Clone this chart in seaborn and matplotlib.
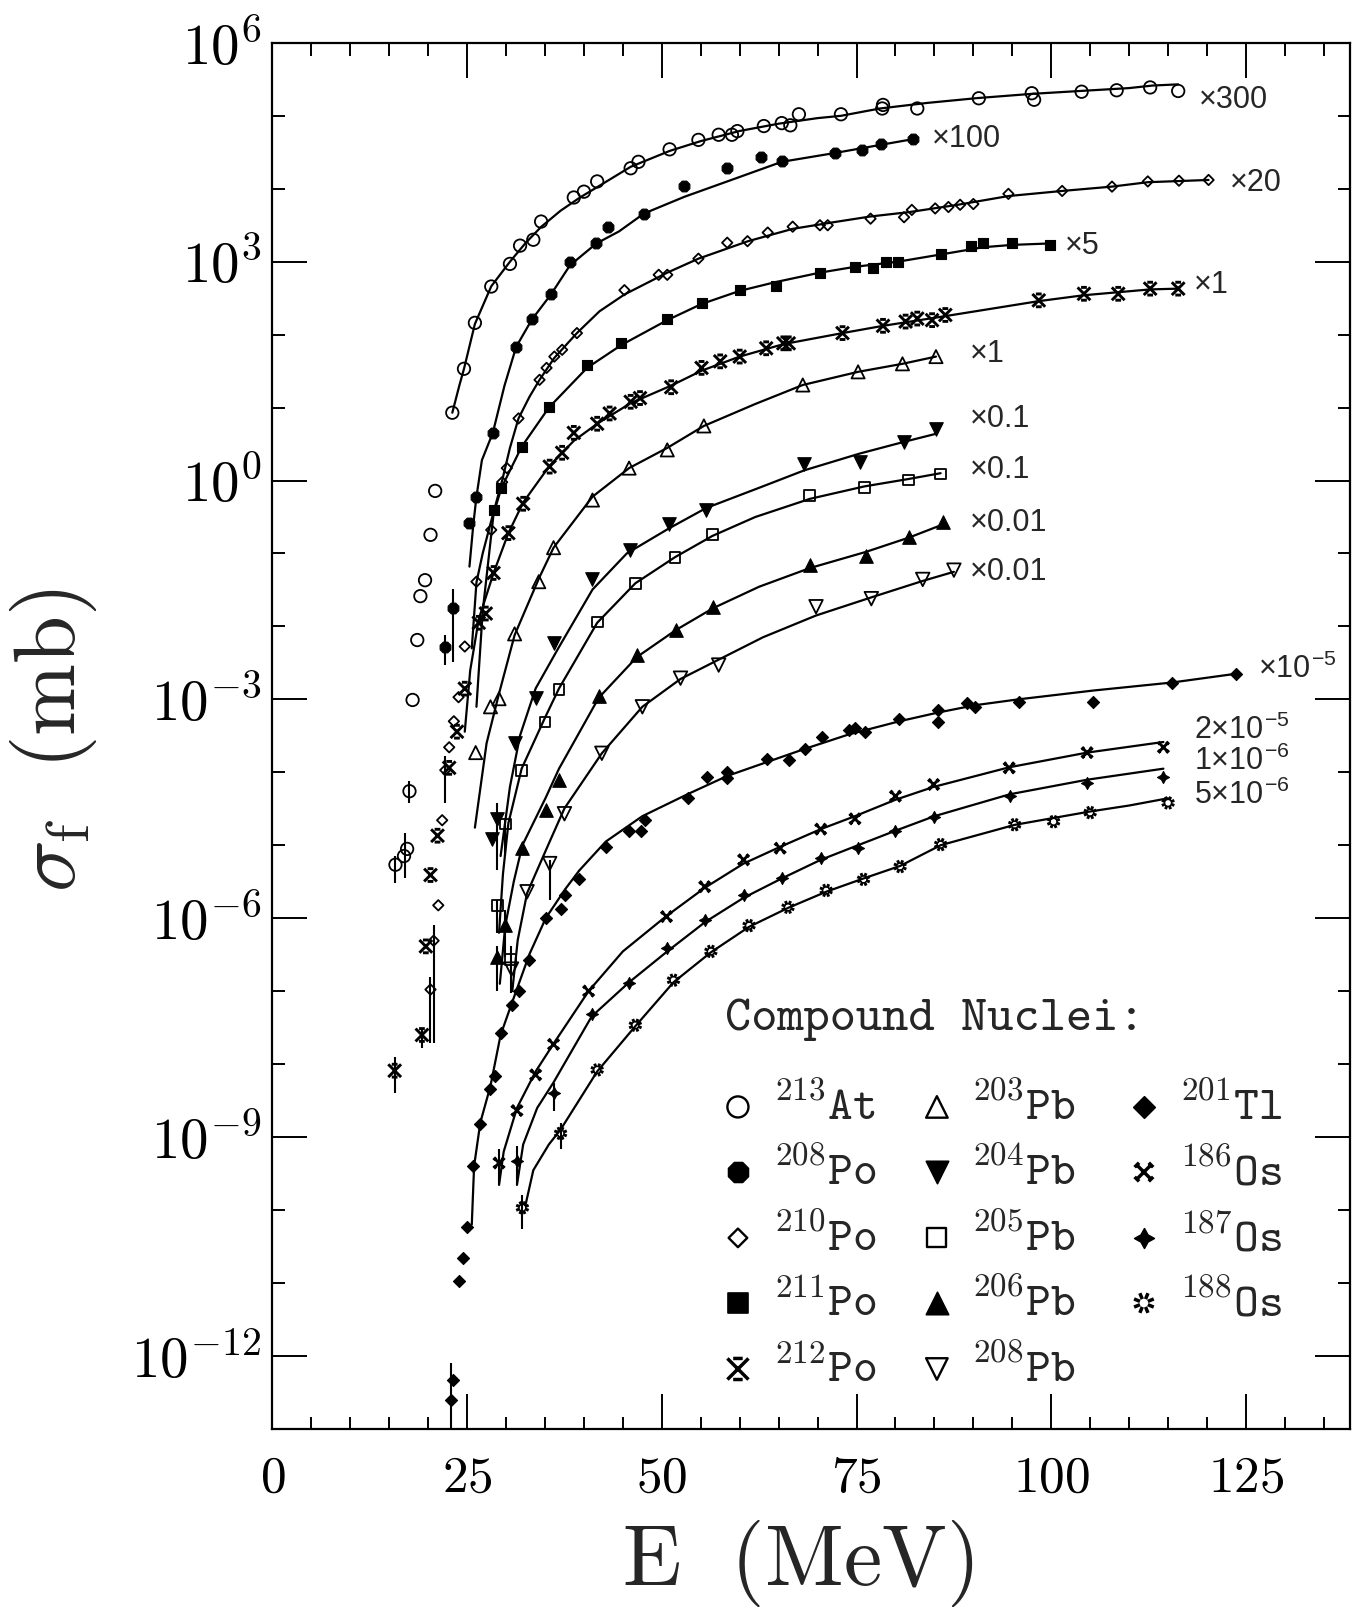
import numpy as np
import matplotlib
matplotlib.use("Agg")
import matplotlib.pyplot as plt
from matplotlib.path import Path
from matplotlib.ticker import MultipleLocator, FixedLocator, FuncFormatter, NullFormatter
import seaborn as sns

# values (sigma already multiplied by the factor shown next to each curve)
# 213At  x300
at213_E = [15.8, 16.9, 17.3, 17.6, 18.0, 18.6, 19.0, 19.6, 20.3, 20.9, 23.1, 24.6, 26.0, 28.1, 30.5, 31.8, 33.5, 34.5,
           38.7, 40.0, 41.7, 46.0, 47.0, 51.0, 54.7, 57.3, 59.0, 59.7, 63.1, 65.4, 66.5, 67.6, 73.0, 78.3, 78.4, 82.8,
           90.7, 97.5, 97.8, 103.9, 108.4, 112.7, 116.3]
at213_sig = [5.4e-6, 7.1e-6, 8.9e-6, 5.5e-5, 9.8e-4, 6.5e-3, 2.6e-2, 4.3e-2, 0.18, 0.72, 8.5, 34, 145, 457, 933, 1660,
             2000, 3550, 7590, 9120, 1.26e4, 1.91e4, 2.34e4, 3.47e4, 4.68e4, 5.5e4, 5.5e4, 6.17e4, 7.24e4, 7.94e4,
             7.41e4, 1.05e5, 1.05e5, 1.26e5, 1.41e5, 1.26e5, 1.74e5, 2.04e5, 1.66e5, 2.14e5, 2.24e5, 2.45e5, 2.19e5]
at213_fitE = [23.1, 24.0, 24.6, 26.0, 28.1, 30.5, 32.5, 34.5, 37.0, 39.5, 42.0, 46.0, 51.0, 55.0, 60.0, 65.0, 70.0,
              73.0, 78.0, 84.0, 90.5, 97.5, 104.0, 110.0, 113.0, 116.3]
at213_fit = [8.5, 20, 34, 140, 460, 1000, 1800, 3000, 5000, 7600, 1.1e4, 2.0e4, 3.3e4, 4.5e4, 6.2e4, 7.8e4, 9.3e4,
             1.0e5, 1.26e5, 1.5e5, 1.75e5, 2.0e5, 2.2e5, 2.4e5, 2.6e5, 2.7e5]

# 208Po  x100
po208_E = [22.2, 23.2, 25.3, 26.2, 28.3, 31.3, 33.3, 35.8, 38.2, 41.6, 43.1, 47.7, 52.9, 58.4, 62.7, 65.4, 72.2, 75.7,
           78.1, 82.3]
po208_sig = [5.3e-3, 1.8e-2, 0.26, 0.6, 4.5, 68, 162, 363, 977, 1780, 3020, 4570, 1.1e4, 1.91e4, 2.75e4, 2.4e4,
             3.09e4, 3.39e4, 4.07e4, 4.79e4]
po208_fitE = [25.3, 25.8, 26.2, 26.9, 28.3, 29.8, 31.3, 33.3, 35.8, 38.2, 41.6, 44.5, 47.7, 52.9, 58.4, 65.4, 72.2,
              78.1, 82.3]
po208_fit = [6.6e-2, 0.25, 0.6, 1.9, 4.5, 20, 68, 160, 360, 890, 1780, 2600, 4570, 7760, 1.26e4, 2.34e4, 3.09e4,
             4.0e4, 4.8e4]

# 210Po  x20
po210_E = [20.3, 20.7, 21.3, 21.8, 22.2, 22.7, 23.3, 23.9, 24.7, 26.2, 28.1, 29.5, 30.1, 31.6, 34.3, 35.2, 36.2, 37.2,
           39.1, 45.2, 49.6, 50.7, 54.7, 58.4, 61.0, 63.6, 66.8, 70.3, 71.3, 76.8, 81.1, 82.1, 85.1, 86.8, 88.3, 90.0,
           94.5, 101.4, 107.8, 112.4, 116.4, 120.2]
po210_sig = [1.05e-7, 4.9e-7, 1.5e-6, 2.2e-5, 1.07e-4, 2.2e-4, 5.0e-4, 1.07e-3, 5.3e-3, 4.1e-2, 0.21, 0.95, 1.48, 7.1,
             24, 35, 50, 62, 105, 407, 661, 661, 1100, 1820, 1910, 2510, 3020, 3160, 3160, 3890, 4070, 5130, 5370,
             5620, 6030, 6170, 8510, 9330, 1.07e4, 1.26e4, 1.29e4, 1.32e4]
po210_fitE = [25.6, 26.2, 27.0, 28.1, 29.5, 30.5, 31.6, 33.0, 34.3, 36.2, 39.1, 42.0, 45.2, 50.7, 54.7, 61.0, 66.8,
              72.0, 76.8, 81.8, 88.0, 94.5, 101.4, 107.8, 112.4, 120.2]
po210_fit = [5.0e-3, 4.0e-2, 0.1, 0.28, 1.0, 2.8, 7.1, 14, 24, 48, 105, 209, 355, 708, 1100, 1900, 2820, 3470, 4170,
             4790, 6030, 7940, 9330, 1.07e4, 1.23e4, 1.32e4]

# 211Po  x5
po211_E = [28.4, 29.4, 32.0, 35.5, 40.4, 44.8, 50.7, 55.1, 60.0, 64.6, 70.3, 74.8, 77.1, 78.8, 80.3, 85.9, 89.7, 91.3,
           95.0, 99.9]
po211_sig = [0.4, 0.78, 2.9, 10.2, 38, 76, 162, 269, 407, 468, 692, 851, 813, 1000, 977, 1260, 1620, 1820, 1780, 1700]
po211_fitE = [26.2, 27.0, 28.4, 29.4, 32.0, 35.5, 40.4, 44.8, 50.7, 55.1, 60.0, 64.6, 70.3, 74.8, 80.3, 85.9, 91.3,
              95.0, 99.9]
po211_fit = [7.9e-4, 1.6e-2, 0.35, 0.79, 2.9, 10, 35, 72, 158, 263, 398, 525, 708, 851, 1000, 1260, 1580, 1700, 1780]

# 212Po  x1
po212_E = [15.7, 19.2, 19.7, 20.3, 21.2, 22.7, 23.7, 24.7, 26.5, 27.4, 28.4, 30.3, 32.2, 35.6, 37.2, 38.7, 41.7, 43.3,
           46.0, 47.2, 51.2, 55.1, 57.5, 60.0, 63.4, 65.6, 66.3, 73.2, 78.4, 81.3, 82.8, 84.7, 86.4, 98.4, 104.2,
           108.6, 112.7, 116.3]
po212_sig = [8.1e-9, 2.5e-8, 4.1e-7, 3.9e-6, 1.35e-5, 1.15e-4, 3.6e-4, 1.4e-3, 1.12e-2, 1.5e-2, 5.4e-2, 0.19, 0.48,
             1.55, 2.4, 4.5, 6.0, 8.3, 12, 13.5, 19, 35, 43, 50, 65, 76, 76, 105, 132, 151, 166, 158, 186, 295, 363,
             363, 427, 427]
po212_fitE = [24.7, 25.4, 26.5, 28.4, 30.3, 32.2, 35.6, 38.7, 41.7, 46.0, 51.2, 55.1, 60.0, 65.6, 73.2, 78.4, 86.2,
              98.4, 104.2, 112.7, 116.3]
po212_fit = [3.6e-4, 2.5e-3, 1.26e-2, 5.4e-2, 0.19, 0.5, 1.6, 3.5, 6.0, 11.5, 20, 32, 50, 74, 105, 132, 178, 288, 347,
             417, 427]

# 203Pb  x1
pb203_E = [26.1, 28.0, 29.1, 31.1, 34.2, 36.1, 41.1, 45.8, 50.7, 55.4, 68.1, 75.2, 80.9, 85.2]
pb203_sig = [1.86e-4, 7.9e-4, 1.02e-3, 7.9e-3, 4.1e-2, 0.12, 0.54, 1.48, 2.63, 5.6, 20.4, 30.9, 39.8, 50]
pb203_fitE = [26.0, 27.5, 29.1, 31.1, 34.2, 36.1, 41.1, 45.8, 50.7, 55.4, 62.0, 68.1, 75.2, 80.9, 85.2]
pb203_fit = [1.74e-5, 2.5e-4, 1.2e-3, 7.6e-3, 4.5e-2, 0.12, 0.6, 1.48, 2.8, 5.6, 11.2, 20.4, 30.9, 39.8, 50]

# 204Pb  x0.1
pb204_E = [28.2, 28.9, 31.2, 33.8, 36.1, 41.1, 45.9, 50.9, 55.7, 68.3, 75.4, 81.1, 85.2]
pb204_sig = [1.2e-5, 2.3e-5, 2.5e-4, 1.05e-3, 6.0e-3, 4.4e-2, 0.112, 0.25, 0.4, 1.7, 1.82, 3.39, 5.1]
pb204_fitE = [29.3, 30.5, 31.8, 33.8, 36.7, 41.1, 45.5, 50.9, 55.7, 62.7, 68.3, 75.4, 81.1, 85.2]
pb204_fit = [7.1e-6, 6.3e-5, 3.2e-4, 1.41e-3, 5.0e-3, 3.2e-2, 0.1, 0.22, 0.42, 0.81, 1.38, 2.34, 3.39, 4.37]

# 205Pb  x0.1
pb205_E = [28.9, 29.9, 30.6, 32.0, 35.0, 36.8, 41.7, 46.6, 51.7, 56.5, 69.0, 76.0, 81.7, 85.8]
pb205_sig = [1.5e-6, 1.95e-5, 2.7e-7, 1.07e-4, 4.9e-4, 1.38e-3, 1.15e-2, 3.9e-2, 8.9e-2, 0.18, 0.63, 0.81, 1.02, 1.23]
pb205_fitE = [29.1, 29.6, 30.3, 32.0, 35.0, 36.8, 41.7, 46.6, 51.7, 56.5, 62.0, 69.0, 76.0, 81.7, 85.8]
pb205_fit = [6.3e-7, 4.0e-6, 2.0e-5, 1.12e-4, 5.6e-4, 1.41e-3, 1.12e-2, 3.9e-2, 8.9e-2, 0.174, 0.316, 0.56, 0.83,
             1.05, 1.26]

# 206Pb  x0.01
pb206_E = [28.9, 29.9, 32.1, 35.1, 36.8, 41.9, 46.8, 51.8, 56.6, 69.0, 76.2, 81.8, 86.1]
pb206_sig = [2.95e-7, 8.1e-7, 9.1e-6, 3.0e-5, 7.9e-5, 1.1e-3, 4.1e-3, 8.9e-3, 1.86e-2, 6.9e-2, 9.1e-2, 0.17, 0.27]
pb206_fitE = [29.2, 29.9, 31.0, 32.1, 35.1, 36.8, 41.9, 46.8, 51.8, 56.6, 62.5, 69.0, 76.2, 81.8, 86.1]
pb206_fit = [1.26e-7, 7.9e-7, 3.2e-6, 1.0e-5, 4.5e-5, 1.12e-4, 1.05e-3, 3.8e-3, 8.9e-3, 1.78e-2, 3.5e-2, 6.3e-2,
             0.105, 0.166, 0.25]

# 208Pb  x0.01
pb208_E = [30.7, 32.7, 35.6, 37.5, 42.3, 47.5, 52.4, 57.3, 69.8, 76.9, 83.5, 87.5]
pb208_sig = [2.0e-7, 2.3e-6, 5.6e-6, 2.7e-5, 1.82e-4, 7.9e-4, 1.95e-3, 2.95e-3, 1.86e-2, 2.4e-2, 4.4e-2, 5.9e-2]
pb208_fitE = [30.8, 31.5, 32.7, 35.6, 37.5, 42.3, 47.5, 52.4, 57.3, 63.0, 69.8, 76.9, 83.5, 87.5]
pb208_fit = [1.0e-7, 5.0e-7, 2.2e-6, 1.12e-5, 3.2e-5, 1.82e-4, 7.9e-4, 1.9e-3, 3.5e-3, 7.1e-3, 1.41e-2, 2.5e-2,
             4.2e-2, 5.6e-2]

# 201Tl  x1e-5
tl201_E = [22.9, 23.2, 23.9, 24.5, 25.0, 25.7, 26.7, 28.0, 28.6, 29.3, 30.8, 31.6, 33.0, 35.1, 37.1, 37.6, 39.4, 42.8,
           45.8, 47.3, 47.8, 53.3, 55.8, 58.4, 58.4, 63.5, 66.3, 68.4, 70.6, 74.0, 74.8, 76.1, 80.5, 85.5, 85.5, 89.2,
           90.2, 95.8, 105.4, 115.5, 123.7]
tl201_sig = [2.5e-13, 4.7e-13, 1.07e-11, 2.2e-11, 5.9e-11, 4.0e-10, 1.5e-9, 4.5e-9, 6.8e-9, 2.7e-8, 6.5e-8, 1.0e-7,
             2.7e-7, 1.0e-6, 1.32e-6, 2.1e-6, 3.4e-6, 9.5e-6, 1.55e-5, 1.58e-5, 2.2e-5, 4.4e-5, 8.7e-5, 1.02e-4,
             8.3e-5, 1.51e-4, 1.48e-4, 2.1e-4, 3.0e-4, 3.8e-4, 4.0e-4, 3.6e-4, 5.3e-4, 7.1e-4, 4.9e-4, 8.9e-4,
             7.9e-4, 9.3e-4, 9.3e-4, 1.7e-3, 2.24e-3]
tl201_fitE = [25.6, 25.9, 26.7, 28.0, 29.3, 30.8, 33.0, 35.1, 37.6, 39.4, 42.8, 47.5, 53.3, 58.4, 63.5, 68.4, 74.0,
              80.5, 85.5, 90.2, 95.8, 105.4, 115.5, 123.7]
tl201_fit = [6.3e-11, 4.0e-10, 1.58e-9, 5.0e-9, 2.5e-8, 7.1e-8, 3.2e-7, 1.0e-6, 2.5e-6, 4.5e-6, 1.12e-5, 2.5e-5,
             5.0e-5, 8.9e-5, 1.38e-4, 2.1e-4, 3.3e-4, 5.0e-4, 6.6e-4, 8.3e-4, 1.0e-3, 1.32e-3, 1.7e-3, 2.24e-3]

# 186Os  x2e-5
os186_E = [29.1, 31.4, 33.8, 36.1, 40.6, 50.6, 55.5, 60.5, 65.2, 70.4, 74.8, 80.0, 84.9, 94.6, 104.6, 114.4]
os186_sig = [4.4e-10, 2.3e-9, 7.1e-9, 1.86e-8, 1.0e-7, 1.05e-6, 2.7e-6, 6.3e-6, 9.1e-6, 1.66e-5, 2.3e-5, 4.7e-5,
             6.8e-5, 1.15e-4, 1.86e-4, 2.2e-4]
os186_fitE = [29.1, 29.7, 31.4, 33.8, 36.1, 40.6, 45.0, 50.5, 55.5, 60.5, 65.2, 70.4, 74.8, 80.0, 84.9, 94.6, 104.6,
              114.4]
os186_fit = [2.2e-10, 6.3e-10, 2.5e-9, 7.9e-9, 1.9e-8, 1.0e-7, 3.5e-7, 1.05e-6, 2.6e-6, 5.6e-6, 9.5e-6, 1.66e-5,
             2.5e-5, 4.2e-5, 6.3e-5, 1.17e-4, 1.86e-4, 2.6e-4]

# 187Os  x1e-6
os187_E = [31.4, 36.1, 41.0, 45.8, 50.7, 55.6, 60.5, 65.4, 70.4, 75.2, 80.0, 85.0, 94.7, 104.6, 114.4]
os187_sig = [4.7e-10, 4.0e-9, 4.8e-8, 1.29e-7, 3.9e-7, 9.3e-7, 2.1e-6, 3.5e-6, 6.6e-6, 9.1e-6, 1.58e-5, 2.45e-5,
             4.7e-5, 7.1e-5, 8.7e-5]
os187_fitE = [31.4, 32.2, 34.0, 36.1, 41.0, 45.8, 50.7, 55.6, 60.5, 65.4, 70.4, 75.2, 80.0, 85.0, 94.7, 104.6, 114.4]
os187_fit = [2.2e-10, 7.9e-10, 2.5e-9, 5.6e-9, 4.5e-8, 1.32e-7, 3.5e-7, 8.9e-7, 1.9e-6, 3.5e-6, 6.3e-6, 1.0e-5,
             1.58e-5, 2.5e-5, 5.0e-5, 7.9e-5, 1.12e-4]

# 188Os  x5e-6
os188_E = [32.1, 37.0, 41.7, 46.6, 51.5, 56.3, 61.2, 66.2, 71.1, 75.9, 80.6, 85.8, 95.3, 100.3, 105.0, 115.0]
os188_sig = [1.07e-10, 1.12e-9, 8.3e-9, 3.4e-8, 1.41e-7, 3.5e-7, 7.9e-7, 1.41e-6, 2.4e-6, 3.4e-6, 5.1e-6, 1.02e-5,
             1.91e-5, 2.1e-5, 2.8e-5, 3.8e-5]
os188_fitE = [32.5, 33.5, 35.5, 37.0, 41.7, 46.6, 51.5, 56.3, 61.2, 66.2, 71.1, 75.9, 80.6, 85.8, 95.3, 105.0, 110.0,
              115.0]
os188_fit = [1.17e-10, 3.5e-10, 7.9e-10, 1.26e-9, 7.9e-9, 3.3e-8, 1.32e-7, 3.4e-7, 7.6e-7, 1.38e-6, 2.3e-6, 3.5e-6,
             5.2e-6, 1.0e-5, 1.9e-5, 2.9e-5, 3.5e-5, 4.4e-5]

# vertical error bars (E, low, high)
err_E = [15.8, 17.0, 17.6, 15.7, 19.2, 22.2, 23.2, 20.3, 20.7, 22.2, 22.9, 28.9, 29.9, 30.6, 28.9, 35.6, 29.9, 28.9,
         29.1, 31.4, 36.1, 32.1, 37.0]
err_lo = [3.0e-6, 3.5e-6, 3.8e-5, 4.0e-9, 1.66e-8, 2.95e-3, 3.3e-3, 1.95e-8, 1.95e-8, 3.8e-5, 1.0e-13, 6.3e-7, 7.1e-6,
          9.3e-8, 4.6e-6, 1.78e-6, 2.95e-7, 1.0e-7, 2.3e-10, 2.3e-10, 2.3e-9, 5.4e-11, 6.8e-10]
err_hi = [7.1e-6, 1.48e-5, 7.6e-5, 1.26e-8, 2.95e-8, 7.6e-3, 3.3e-2, 1.58e-7, 8.1e-7, 1.66e-4, 7.9e-13, 1.78e-6,
          2.24e-5, 4.1e-7, 3.8e-5, 6.3e-6, 1.29e-6, 4.1e-7, 6.8e-10, 7.4e-10, 5.5e-9, 1.6e-10, 1.55e-9]

# scale factor labels
factor_labels = ["×300", "×100", "×20", "×5", "×1", "×1", "×0.1", "×0.1", "×0.01", "×0.01",
                 "×10$^{\\mathregular{-5}}$", "2×10$^{\\mathregular{-5}}$", "1×10$^{\\mathregular{-6}}$",
                 "5×10$^{\\mathregular{-6}}$"]
factor_pos = [(119.0, 1.66e5), (84.7, 4.8e4), (123.0, 1.2e4), (101.7, 1.66e3), (118.3, 480), (89.6, 54),
              (89.6, 6.9), (89.6, 1.4), (89.6, 0.26), (89.6, 0.055), (126.6, 2.6e-3), (118.3, 3.7e-4),
              (118.3, 1.4e-4), (118.3, 4.8e-5)]


def seg_marker(segs):
    verts, codes = [], []
    for a, b in segs:
        verts += [a, b]
        codes += [Path.MOVETO, Path.LINETO]
    return Path(verts, codes)


mk_212 = seg_marker([((-1, -1), (1, 1)), ((-1, 1), (1, -1)), ((-0.45, 1), (0.45, 1)), ((-0.45, -1), (0.45, -1))])
mk_186 = seg_marker([((-1, -1), (1, 1)), ((-1, 1), (1, -1)),
                     ((0.65, 1.25), (1.25, 0.65)), ((-0.65, 1.25), (-1.25, 0.65)),
                     ((0.65, -1.25), (1.25, -0.65)), ((-0.65, -1.25), (-1.25, -0.65))])
ang = np.deg2rad(np.arange(8) * 45 + 22.5)
mk_188 = seg_marker([((0.4 * np.cos(a), 0.4 * np.sin(a)), (np.cos(a), np.sin(a))) for a in ang])

# name, points, fit, marker, filled, size, legend size, legend column/row
series = [
    ("213", "At", at213_E, at213_sig, at213_fitE, at213_fit, "o", False, 80, 230, 0, 0),
    ("208", "Po", po208_E, po208_sig, po208_fitE, po208_fit, "8", True, 70, 240, 0, 1),
    ("210", "Po", po210_E, po210_sig, po210_fitE, po210_fit, "D", False, 28, 90, 0, 2),
    ("211", "Po", po211_E, po211_sig, po211_fitE, po211_fit, "s", True, 60, 200, 0, 3),
    ("212", "Po", po212_E, po212_sig, po212_fitE, po212_fit, mk_212, None, 85, 230, 0, 4),
    ("203", "Pb", pb203_E, pb203_sig, pb203_fitE, pb203_fit, "^", False, 90, 240, 1, 0),
    ("204", "Pb", pb204_E, pb204_sig, pb204_fitE, pb204_fit, "v", True, 95, 260, 1, 1),
    ("205", "Pb", pb205_E, pb205_sig, pb205_fitE, pb205_fit, "s", False, 60, 190, 1, 2),
    ("206", "Pb", pb206_E, pb206_sig, pb206_fitE, pb206_fit, "^", True, 95, 260, 1, 3),
    ("208", "Pb", pb208_E, pb208_sig, pb208_fitE, pb208_fit, "v", False, 95, 240, 1, 4),
    ("201", "Tl", tl201_E, tl201_sig, tl201_fitE, tl201_fit, "D", True, 38, 120, 2, 0),
    ("186", "Os", os186_E, os186_sig, os186_fitE, os186_fit, mk_186, None, 65, 180, 2, 1),
    ("187", "Os", os187_E, os187_sig, os187_fitE, os187_fit, (4, 1, 0), True, 75, 200, 2, 2),
    ("188", "Os", os188_E, os188_sig, os188_fitE, os188_fit, mk_188, None, 80, 200, 2, 3),
]

sns.set_style("ticks")
plt.rcParams["mathtext.fontset"] = "cm"
plt.rcParams["font.family"] = ["DejaVu Serif"]

fig = plt.figure(figsize=(13.64, 16.12), dpi=100)
ax = fig.add_axes([0.1997, 0.1137, 0.7897, 0.8597])
ax.set_yscale("log")

for mass, el, E, s, fE, f, mk, filled, size, lsize, col, row in series:
    sns.lineplot(x=fE, y=f, ax=ax, color="k", lw=1.6, sort=False, estimator=None)
    if filled is None:
        fc, lw = "none", 2.1
    elif filled:
        fc, lw = "k", 0.8
    else:
        fc, lw = "none", 1.3
    sns.scatterplot(x=E, y=s, ax=ax, marker=mk, s=size, color="k", facecolor=fc, edgecolor="k",
                    linewidth=lw, zorder=3)
    # legend entry
    lx = [0.4322, 0.6169, 0.8091][col]
    tx = [0.4647, 0.6486, 0.8416][col]
    ly = [0.2322, 0.1852, 0.1377, 0.0907, 0.0431][row]
    ax.scatter([lx], [ly], transform=ax.transAxes, marker=mk, s=lsize, facecolor=fc, edgecolor="k",
               linewidth=lw + 0.4, clip_on=False, zorder=3)
    ax.text(tx, ly, r"$^{\mathsf{%s}}\mathtt{%s}$" % (mass, el), transform=ax.transAxes,
            fontsize=34, ha="left", va="center")

ax.vlines(err_E, err_lo, err_hi, color="k", lw=1.5, zorder=2)

for lab, (x, y) in zip(factor_labels, factor_pos):
    ax.text(x, y, lab, fontsize=22, family="Liberation Sans", ha="left", va="center")

ax.text(0.420, 0.295, "Compound Nuclei:", transform=ax.transAxes, fontsize=36, family="cmtt10",
        ha="left", va="center")

ax.set_xlim(0, 138.3)
ax.set_ylim(1e-13, 1e6)
ax.xaxis.set_major_locator(MultipleLocator(25))
ax.xaxis.set_minor_locator(MultipleLocator(5))
ax.yaxis.set_major_locator(FixedLocator([1e-12, 1e-9, 1e-6, 1e-3, 1e0, 1e3, 1e6]))
ax.yaxis.set_minor_locator(FixedLocator([10.0 ** k for k in range(-13, 7)]))
ax.yaxis.set_minor_formatter(NullFormatter())
ax.xaxis.set_major_formatter(FuncFormatter(lambda v, _: r"$%d$" % v))
ax.yaxis.set_major_formatter(FuncFormatter(lambda v, _: r"$10^{%d}$" % int(round(np.log10(v)))))
ax.tick_params(which="both", direction="in", top=True, right=True, width=1.4, colors="k")
ax.tick_params(which="major", length=25, pad=18)
ax.tick_params(axis="x", which="major", labelsize=37)
ax.tick_params(axis="y", which="major", labelsize=41, pad=8)
ax.tick_params(which="minor", length=9)
for sp in ax.spines.values():
    sp.set_linewidth(1.6)
    sp.set_color("k")
ax.set_xlabel("")
ax.set_ylabel("")

fig.text(0.585, 0.030, r"$\mathrm{E\ \ (MeV)}$", fontsize=62, ha="center", va="center")
fig.text(0.039, 0.541, r"$\sigma_{\mathrm{f}}\ \ \mathrm{(mb)}$", fontsize=62, ha="center", va="center",
         rotation=90)

fig.savefig("out.png", dpi=100)
